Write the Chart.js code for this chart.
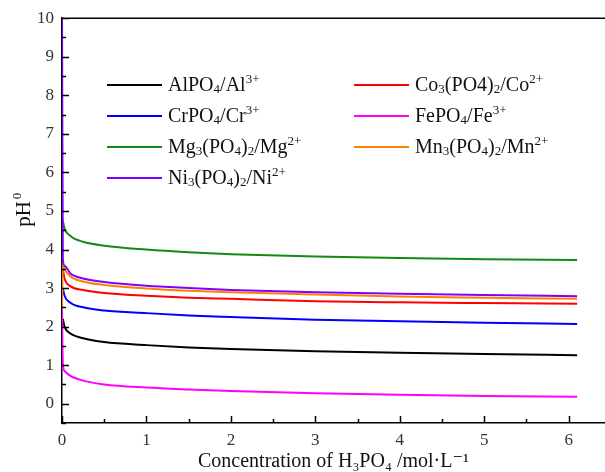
<!DOCTYPE html>
<html>
<head>
<meta charset="utf-8">
<script src="https://cdn.jsdelivr.net/npm/chart.js@4/dist/chart.umd.min.js"></script>
<style>
  body { margin: 0; background: #fff; }
  #wrap { position: relative; width: 605px; height: 472px; }
  .leg { position: absolute; font-family: "Liberation Serif", "DejaVu Serif", serif; font-size: 20px; color: #111; white-space: nowrap; line-height: 20px; }
  .leg i { display: inline-block; width: 55px; height: 2px; vertical-align: middle; margin-right: 6px; position: relative; top: -1px; }
  .leg sub { font-size: 13px; vertical-align: -2px; }
  .leg sup { font-size: 13px; vertical-align: 8px; }
</style>
</head>
<body>
<div id="wrap">
<canvas id="myChart" width="605" height="472"></canvas>
</div>
<script>
// concentration of H3PO4 (mol/L)
var conc = [0, 0.01, 0.03, 0.1, 0.25, 0.5, 1, 1.5, 2, 3, 4, 5, 6.1];

var alData = [null, 2.2, 2.0, 1.82, 1.7, 1.6, 1.52, 1.46, 1.42, 1.36, 1.32, 1.29, 1.26];
var coData = [null, 3.5, 3.25, 3.05, 2.95, 2.87, 2.8, 2.75, 2.72, 2.66, 2.63, 2.61, 2.59];
var crData = [null, 3.0, 2.8, 2.62, 2.5, 2.42, 2.35, 2.29, 2.25, 2.18, 2.14, 2.1, 2.07];
var feData = [2.5, 1.05, 0.85, 0.72, 0.6, 0.5, 0.42, 0.37, 0.33, 0.27, 0.23, 0.2, 0.18];
var mgData = [null, 4.75, 4.55, 4.35, 4.2, 4.1, 4.0, 3.93, 3.88, 3.82, 3.78, 3.75, 3.73];
var mnData = [2.5, 3.65, 3.5, 3.3, 3.17, 3.08, 2.99, 2.93, 2.89, 2.83, 2.78, 2.75, 2.72];
var niData = [10.5, 3.75, 3.58, 3.38, 3.25, 3.16, 3.06, 3.0, 2.95, 2.89, 2.85, 2.82, 2.79];

var xTicks = [0, 0.5, 1, 1.5, 2, 2.5, 3, 3.5, 4, 4.5, 5, 5.5, 6];
var yTicks = [-0.5, 0, 0.5, 1, 1.5, 2, 2.5, 3, 3.5, 4, 4.5, 5, 5.5, 6, 6.5, 7, 7.5, 8, 8.5, 9, 9.5, 10];

var names = ['Al', 'Co', 'Cr', 'Fe', 'Mg', 'Mn', 'Ni'];
var series = [alData, coData, crData, feData, mgData, mnData, niData];
var colors = ['#000000', '#ff0000', '#0000ff', '#ff00ff', '#138a13', '#ff8000', '#8000ff'];

function pts(arr) {
    var out = [];
    for (var i = 0; i < conc.length; i++) {
        out.push({x: conc[i], y: arr[i]});
    }
    return out;
}

var datasets = [];
for (var i = 0; i < series.length; i++) {
    datasets.push({
        label: names[i],
        data: pts(series[i]),
        borderColor: colors[i],
        backgroundColor: colors[i],
        borderWidth: 2,
        pointRadius: 0,
        cubicInterpolationMode: 'monotone',
        order: series.length - i
    });
}

const serif = "'Liberation Serif', 'DejaVu Serif', serif";

// inward tick marks, top frame line and the y title
const innerTicks = {
    id: 'innerTicks',
    afterDraw(chart) {
        const ctx = chart.ctx;
        const a = chart.chartArea;
        const xs = chart.scales.x, ys = chart.scales.y;
        ctx.save();
        ctx.strokeStyle = '#000';
        ctx.lineWidth = 1.5;
        ctx.beginPath();
        ctx.moveTo(a.left, a.top);
        ctx.lineTo(a.right, a.top);
        xTicks.forEach(function(v) {
            var p = Math.round(xs.getPixelForValue(v)) + 0.5;
            var len = (v % 1 === 0) ? 7 : 4;
            ctx.moveTo(p, a.bottom);
            ctx.lineTo(p, a.bottom - len);
        });
        yTicks.forEach(function(v) {
            var p = Math.round(ys.getPixelForValue(v)) + 0.5;
            var len = (v % 1 === 0) ? 7 : 4;
            ctx.moveTo(a.left, p);
            ctx.lineTo(a.left + len, p);
        });
        ctx.stroke();

        // pH0 title
        ctx.translate(24, ys.getPixelForValue(5.05));
        ctx.rotate(-Math.PI / 2);
        ctx.fillStyle = '#111';
        ctx.textAlign = 'center';
        ctx.textBaseline = 'middle';
        ctx.font = "21px " + serif;
        ctx.fillText('pH', -5, 0);
        ctx.font = "13px " + serif;
        ctx.fillText('0', 13, -6);
        ctx.restore();
    }
};

new Chart(document.getElementById('myChart'), {
    type: 'line',
    data: { datasets: datasets },
    options: {
        responsive: false,
        animation: false,
        layout: { padding: { top: 17, right: 0, left: 0, bottom: -2 } },
        plugins: { legend: { display: false }, tooltip: { enabled: false } },
        scales: {
            x: {
                type: 'linear',
                min: 0,
                max: 6.43,
                afterBuildTicks: function(s) { s.ticks = xTicks.map(function(v) { return {value: v}; }); },
                afterFit: function(s) { s.height = 51; },
                grid: { display: false, drawTicks: false },
                border: { color: '#000', width: 1.5 },
                ticks: {
                    autoSkip: false,
                    maxRotation: 0,
                    padding: 7,
                    color: '#333',
                    font: { family: serif, size: 17 },
                    callback: function(v) { return (v % 1 === 0) ? v : ''; }
                },
                title: {
                    display: true,
                    text: 'Concentration of H\u2083PO\u2084 /mol\u00b7L\u207b\u00b9',
                    color: '#111',
                    font: { family: serif, size: 20 },
                    padding: { top: 4, bottom: 0 }
                }
            },
            y: {
                min: -0.5,
                max: 10,
                afterBuildTicks: function(s) { s.ticks = yTicks.map(function(v) { return {value: v}; }); },
                afterFit: function(s) { s.width = 62; },
                grid: { display: false, drawTicks: false },
                border: { color: '#000', width: 1.5 },
                ticks: {
                    autoSkip: false,
                    padding: 8,
                    color: '#333',
                    font: { family: serif, size: 17 },
                    callback: function(v) { return (v % 1 === 0) ? v : ''; }
                }
            }
        }
    },
    plugins: [innerTicks]
});
</script>
<div class="leg" style="left:107px; top:69px;"><i style="background:#000000"></i>AlPO<sub>4</sub>/Al<sup>3+</sup></div>
<div class="leg" style="left:107px; top:100px;"><i style="background:#0000ff"></i>CrPO<sub>4</sub>/Cr<sup>3+</sup></div>
<div class="leg" style="left:107px; top:131px;"><i style="background:#138a13"></i>Mg<sub>3</sub>(PO<sub>4</sub>)<sub>2</sub>/Mg<sup>2+</sup></div>
<div class="leg" style="left:107px; top:162px;"><i style="background:#8000ff"></i>Ni<sub>3</sub>(PO<sub>4</sub>)<sub>2</sub>/Ni<sup>2+</sup></div>
<div class="leg" style="left:354px; top:69px;"><i style="background:#ff0000"></i>Co<sub>3</sub>(PO4)<sub>2</sub>/Co<sup>2+</sup></div>
<div class="leg" style="left:354px; top:100px;"><i style="background:#ff00ff"></i>FePO<sub>4</sub>/Fe<sup>3+</sup></div>
<div class="leg" style="left:354px; top:131px;"><i style="background:#ff8000"></i>Mn<sub>3</sub>(PO<sub>4</sub>)<sub>2</sub>/Mn<sup>2+</sup></div>
</body>
</html>
